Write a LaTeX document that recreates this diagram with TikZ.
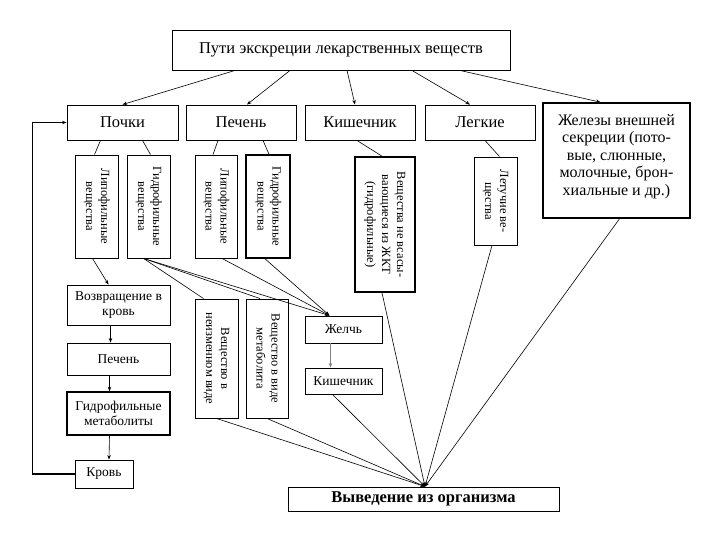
\documentclass[tikz,border=0pt]{standalone}
\usepackage{fontspec}
\setmainfont{Liberation Serif}
\usepackage{graphicx}
\usetikzlibrary{arrows.meta}
\newcommand{\pSize}[2]{\fontsize{#1}{#2}\selectfont}
\newcommand{\pTurned}[1]{\rotatebox{-90}{\begin{tabular}{@{}c@{}}#1\end{tabular}}}

\begin{document}
\begin{tikzpicture}[x=1pt,y=-1pt,
  box/.style={draw, line width=0.9pt, inner sep=1pt, align=center, font=\pSize{13.5}{15.5}},
  heavybox/.style={box, line width=1.6pt},
  bigtext/.style={font=\pSize{16.5}{18}},
  vtext/.style={font=\pSize{12.5}{15}},
  sz/.style 2 args={minimum width=#1pt, minimum height=#2pt},
  link/.style={line width=0.6pt},
  arr/.style={link, -{Stealth[length=4.5pt,width=3.5pt]}}]
\useasboundingbox (0,0) rectangle (720,540);
\node[box, bigtext, sz={338}{40}] (title) at (341,50) {Пути экскреции лекарственных веществ};
\node[box, bigtext, sz={111}{35}] (kidney) at (122.5,122.5) {Почки};
\node[box, bigtext, sz={110}{35}] (liver) at (241,122.5) {Печень};
\node[box, bigtext, sz={110}{35}] (intest) at (360,122.5) {Кишечник};
\node[box, bigtext, sz={110}{35}] (lungs) at (480,122.5) {Легкие};
\node[heavybox, sz={147}{115}, font=\pSize{16}{17.5}] (glands) at (616.5,160.5) {Железы внешней\\секреции (пото-\\вые, слюнные,\\молочные, брон-\\хиальные и др.)\\[-6pt]};
\node[box, vtext, sz={43}{103}] (kLipo) at (96.5,206.5) {\pTurned{Липофильные\\вещества}};
\node[box, vtext, sz={43}{103}] (kHydro) at (148.5,206.5) {\pTurned{Гидрофильные\\вещества}};
\node[box, vtext, sz={42}{103}] (lLipo) at (216,206.5) {\pTurned{Липофильные\\вещества}};
\node[heavybox, vtext, sz={44}{103}] (lHydro) at (268,206.5) {\pTurned{Гидрофильные\\вещества}};
\node[heavybox, vtext, sz={60}{135}] (iSub) at (385,224.5) {\pTurned{Вещества не всасы-\\вающиеся из ЖКТ\\(гидрофильные)}};
\node[box, vtext, sz={43}{88}] (lVol) at (495.5,201) {\pTurned{Летучие ве-\\щества}};
\node[box, sz={103}{40}] (ret) at (118.5,305) {Возвращение в\\кровь};
\node[box, sz={103}{32}] (liver2) at (118.5,359) {Печень};
\node[heavybox, sz={103}{43}] (hMet) at (118.5,413.5) {Гидрофильные\\метаболиты};
\node[box, sz={58}{28}] (blood) at (104,474) {Кровь};
\node[box, vtext, sz={43}{119}] (unch) at (216.5,358.5) {\pTurned{Вещество в\\неизменном виде}};
\node[box, vtext, sz={42}{119}] (metab) at (267,358.5) {\pTurned{Вещество в виде\\метаболита}};
\node[box, sz={77}{27}] (bile) at (343.5,329.5) {Желчь};
\node[box, sz={77}{26}] (intest2) at (343.5,381) {Кишечник};
\node[box, sz={271}{24}, font=\bfseries\pSize{16.5}{18}] (out) at (423.5,499) {Выведение из организма};
\coordinate (bileIn) at ([xshift=-14pt]bile.north);
\coordinate (outIn) at ([xshift=1.5pt]out.north);
\draw[arr] ([xshift=-106pt]title.south) -- (kidney.north);
\draw[arr] ([xshift=-51pt]title.south) -- ([xshift=6pt]liver.north);
\draw[arr] ([xshift=6pt]title.south) -- ([xshift=-5pt]intest.north);
\draw[arr] ([xshift=71pt]title.south) -- ([xshift=-10pt]lungs.north);
\draw[arr] ([xshift=119pt]title.south) -- ([xshift=-16pt]glands.north);
\draw[link] ([xshift=-22pt]kidney.south) -- ([xshift=-2pt]kLipo.north);
\draw[link] ([xshift=20pt]kidney.south) -- ([xshift=2pt]kHydro.north);
\draw[link] ([xshift=-23pt]liver.south) -- ([xshift=-3pt]lLipo.north);
\draw[link] ([xshift=22pt]liver.south) -- ([xshift=1pt]lHydro.north);
\draw[link] ([xshift=-3pt]intest.south) -- ([xshift=-3pt]iSub.north);
\draw[link] ([xshift=5pt]lungs.south) -- ([xshift=4pt]lVol.north);
\draw[arr] ([xshift=-4pt]kLipo.south) -- ([xshift=-10pt]ret.north);
\draw[link] ([xshift=-5pt]kHydro.south) -- ([xshift=-13pt]unch.north);
\draw[link] ([xshift=-5pt]kHydro.south) -- ([xshift=-7pt]metab.north);
\draw[arr] ([xshift=-5pt]kHydro.south) -- (bileIn);
\draw[arr] ([xshift=6pt]lLipo.south) -- (bileIn);
\draw[arr] ([xshift=-3pt]lHydro.south) -- (bileIn);
\draw[arr] ([xshift=-8pt]ret.south) -- ([xshift=-8pt]liver2.north);
\draw[arr] ([xshift=-9pt]liver2.south) -- ([xshift=-9pt]hMet.north);
\draw[arr] ([xshift=-9pt]hMet.south) -- ([xshift=5pt]blood.north);
\draw[arr, gray, line width=1.2pt] ([xshift=-13pt]bile.south) -- ([xshift=-13pt]intest2.north);
\draw[arr, line width=1.4pt] (blood.west) -- ++(-42,0) |- (kidney.west);
\draw[arr] (unch.south) -- (outIn);
\draw[arr] (metab.south) -- (outIn);
\draw[arr] ([xshift=-11pt]intest2.south) -- (outIn);
\draw[arr] ([xshift=-3pt]iSub.south) -- (outIn);
\draw[arr] ([xshift=-3.5pt]lVol.south) -- (outIn);
\draw[arr] ([xshift=3pt]glands.south) -- (outIn);
\end{tikzpicture}
\end{document}
